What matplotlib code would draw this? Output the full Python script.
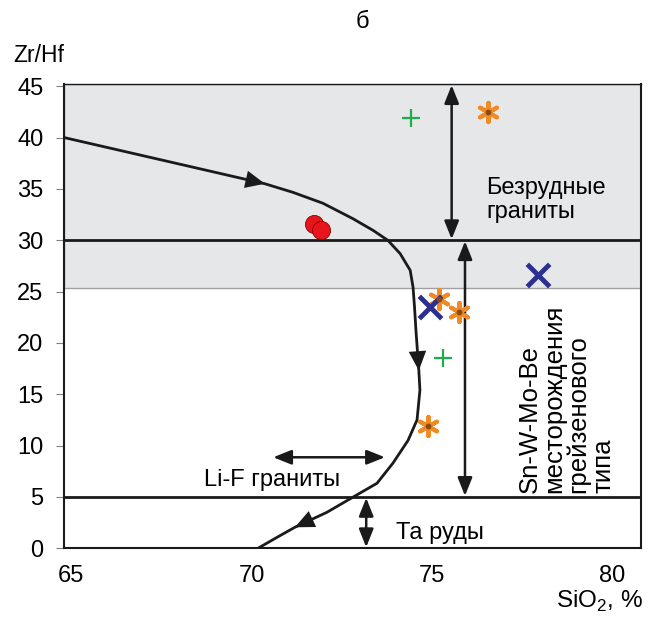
import numpy as np
import matplotlib.pyplot as plt
from matplotlib.patches import Rectangle

plt.rcParams['font.family'] = ['Liberation Sans', 'DejaVu Sans']
plt.rcParams['mathtext.fontset'] = 'custom'
plt.rcParams['mathtext.rm'] = 'Liberation Sans'

# evolution trend curve (SiO2, Zr/Hf)
curve_x = [64.8, 70.37, 71.15, 71.98, 72.81, 73.37, 73.78, 74.12, 74.4, 74.48,
           74.52, 74.56, 74.64, 74.67, 74.59, 74.34, 73.92, 73.48, 72.81, 72.09,
           71.2, 70.71, 70.18]
curve_y = [40.0, 35.5, 34.66, 33.6, 32.1, 30.96, 29.99, 28.7, 27.07, 25.4,
           23.5, 21.2, 17.3, 15.4, 12.5, 10.5, 8.28, 6.33, 4.97, 3.5,
           2.04, 1.07, 0.0]

# samples
circle_x = [71.73, 71.93]
circle_y = [31.6, 30.96]
plus_x = [74.43, 75.3]
plus_y = [41.9, 18.5]
star_x = [76.56, 75.2, 75.75, 74.9]
star_y = [42.5, 24.3, 23.0, 11.9]
cross_x = [77.95, 74.95]
cross_y = [26.6, 23.5]

xticks = [65, 70, 75, 80]
yticks = [0, 5, 10, 15, 20, 25, 30, 35, 40, 45]

fig = plt.figure(figsize=(6.54, 6.28), dpi=100)
ax = fig.add_axes([0.098, 0.127, 0.882, 0.739])
ax.set_xlim(64.8, 80.8)
ax.set_ylim(0, 45.2)

# grey field of barren granites
ax.add_patch(Rectangle((64.8, 25.3), 16, 19.9, facecolor='#e6e7e9',
                       edgecolor='#a0a0a0', lw=1, zorder=0))

ax.axhline(30, color='#1a1a1a', lw=2, zorder=2)
ax.axhline(5, color='#1a1a1a', lw=2, zorder=2)

ax.plot(curve_x, curve_y, color='#1a1a1a', lw=2, zorder=3)

# direction arrows on the curve
for i in [1, 12, 20]:
    ax.annotate('', xy=(curve_x[i], curve_y[i]),
                xytext=(curve_x[i - 1] * 0.5 + curve_x[i] * 0.5,
                        curve_y[i - 1] * 0.5 + curve_y[i] * 0.5),
                arrowprops=dict(arrowstyle='-|>,head_length=1.0,head_width=0.45',
                                color='#1a1a1a', lw=0, shrinkA=0, shrinkB=0,
                                mutation_scale=14), zorder=4)

# range arrows
def darrow(p1, p2):
    ax.annotate('', xy=p1, xytext=p2,
                arrowprops=dict(arrowstyle='<|-|>,head_length=1.0,head_width=0.4',
                                color='#1a1a1a', lw=1.8,
                                mutation_scale=11, shrinkA=0, shrinkB=0), zorder=4)

darrow((75.55, 45.1), (75.55, 30.1))
darrow((75.92, 29.9), (75.92, 5.1))
darrow((73.18, 4.9), (73.18, 0.1))
darrow((70.6, 8.86), (73.7, 8.86))

ax.scatter(circle_x, circle_y, s=170, c='#e8141c', edgecolors='#8a0000',
           linewidths=0.6, zorder=5)
ax.scatter(plus_x, plus_y, s=170, marker='+', c='#1fae4b', linewidths=1.6, zorder=5)
ax.scatter(star_x, star_y, s=190, marker=(6, 2, 0), c='#f08a24', linewidths=3, zorder=5)
ax.scatter(star_x, star_y, s=10, c='#8a4a10', zorder=6)
ax.scatter(cross_x, cross_y, s=260, marker='x', c='#2b2f8f', linewidths=3.5, zorder=5)

ax.text(76.5, 33.9, 'Безрудные\nграниты', fontsize=17, ha='left', va='center',
        linespacing=1.1)
ax.text(70.57, 6.6, 'Li-F граниты', fontsize=17, ha='center', va='center')
ax.text(75.23, 1.45, 'Та руды', fontsize=17, ha='center', va='center')
ax.text(78.73, 5.4, 'Sn-W-Mo-Be\nместорождения\nгрейзенового\nтипа', fontsize=18.5,
        rotation=90, ha='center', va='bottom', multialignment='left',
        linespacing=1.02)

for s in ax.spines.values():
    s.set_linewidth(1.5)
    s.set_color('#1a1a1a')
ax.spines['top'].set_linewidth(1.0)

ax.set_xticks(xticks)
ax.set_yticks(yticks)
ax.tick_params(axis='x', length=0, pad=12, labelsize=17)
ax.tick_params(axis='y', length=6, width=0.8, color='#808080', labelsize=17, pad=9)

fig.text(0.554, 0.965, 'б', fontsize=17, ha='center', va='center')
fig.text(0.021, 0.911, 'Zr/Hf', fontsize=16.5, ha='left', va='center')
fig.text(0.983, 0.022, 'SiO$_2$, %', fontsize=17.5, ha='right', va='bottom')

fig.savefig('out.png', dpi=100)
